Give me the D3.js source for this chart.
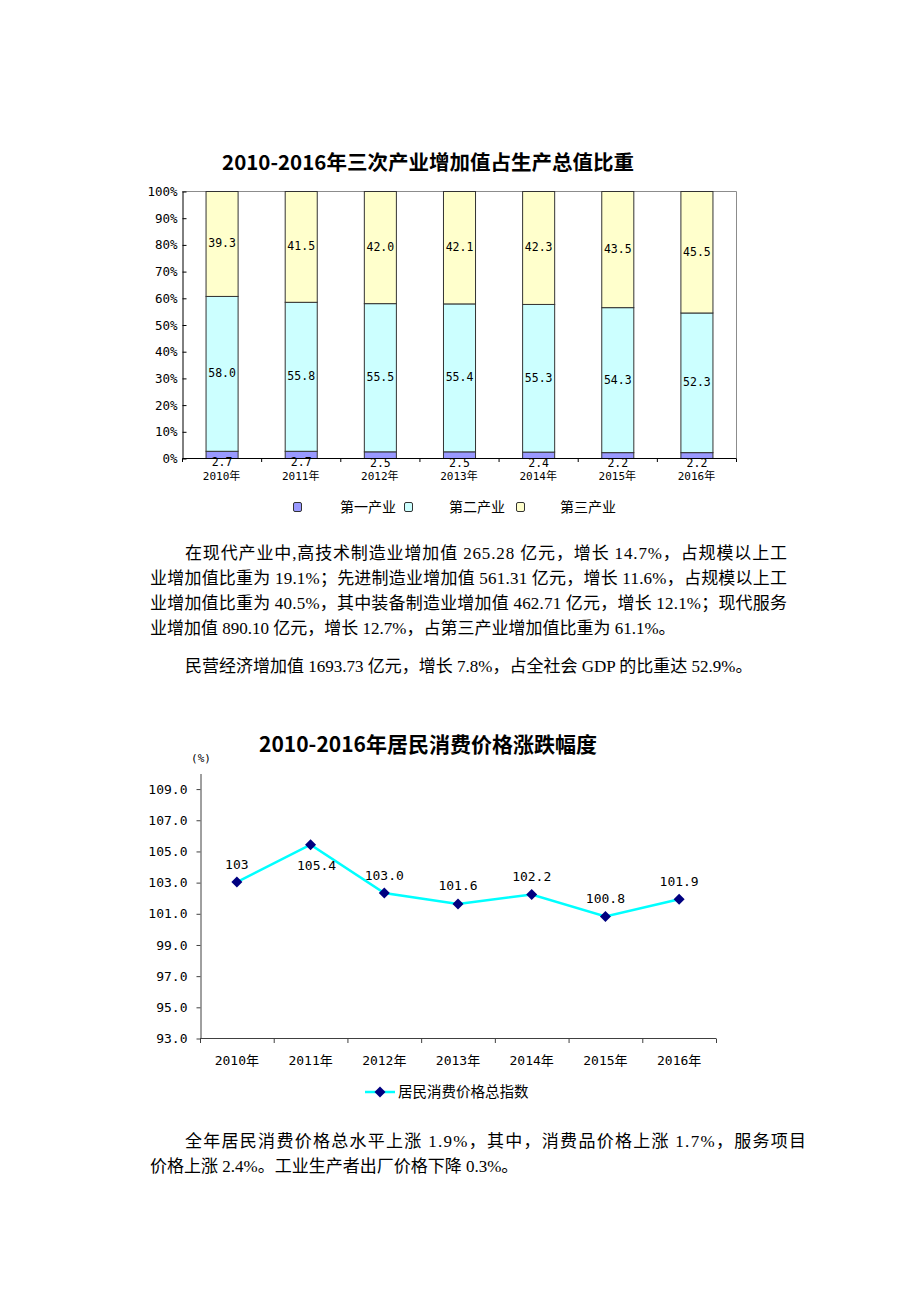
<!DOCTYPE html>
<html>
<head>
<meta charset="utf-8">
<script src="https://cdn.jsdelivr.net/npm/d3@7/dist/d3.min.js"></script>
<style>
  html, body { margin: 0; padding: 0; background: #fff; }
  svg { display: block; }
</style>
</head>
<body>
<svg id="page" width="920" height="1302"></svg>
<script>
// ---------- data ----------
const years = ['2010年','2011年','2012年','2013年','2014年','2015年','2016年'];
const primaryShare   = [2.7, 2.7, 2.5, 2.5, 2.4, 2.2, 2.2];
const secondaryShare = [58.0, 55.8, 55.5, 55.4, 55.3, 54.3, 52.3];
const tertiaryShare  = [39.3, 41.5, 42.0, 42.1, 42.3, 43.5, 45.5];
const shareSeries = ['第一产业','第二产业','第三产业'];
const shareTicks = [0,10,20,30,40,50,60,70,80,90,100];

const cpiValues = [103.0, 105.4, 102.3, 101.6, 102.2, 100.8, 101.9];
const cpiLabels = ['103','105.4','103.0','101.6','102.2','100.8','101.9'];
const cpiTicks = [93,95,97,99,101,103,105,107,109];
const cpiSeries = '居民消费价格总指数';

const svg = d3.select('#page');
const NUM = "'DejaVu Sans Mono','Noto Sans CJK SC',monospace";
const CJK = "'Noto Sans CJK SC',sans-serif";
const BODY = "'Liberation Serif','Noto Sans CJK SC',serif";

// ---------- chart 1: stacked 100% bars ----------
(function(){
  const L = 182, R = 736, T = 191, B = 458;
  const colors = ['#9999ff','#ccffff','#ffffcc'];
  const g = svg.append('g');

  g.append('text').attr('x', 428).attr('y', 170).attr('text-anchor','middle')
    .attr('font-family',CJK).attr('font-weight','bold').attr('font-size',20.5)
    .text('2010-2016年三次产业增加值占生产总值比重');

  const x = d3.scaleBand().domain(years).range([L, R]).paddingInner(0.595).paddingOuter(0.2975);
  const y = d3.scaleLinear().domain([0, 100]).range([B, T]);

  // plot border (top/right)
  g.append('path').attr('d', `M${L},${T+0.5}H${R+0.5}V${B}`).attr('fill','none').attr('stroke','#8c8c8c').attr('stroke-width',1);

  const rows = years.map((yr,i)=>({year:yr, a:primaryShare[i], b:secondaryShare[i], c:tertiaryShare[i]}));
  const stack = d3.stack().keys(['a','b','c'])(rows);

  stack.forEach((layer, li) => {
    g.selectAll(null).data(layer).enter().append('rect')
      .attr('x', d => x(d.data.year) + 0.5)
      .attr('y', d => y(d[1]) + 0.5)
      .attr('width', x.bandwidth())
      .attr('height', d => y(d[0]) - y(d[1]))
      .attr('fill', colors[li]).attr('stroke','#333').attr('stroke-width',1);
  });
  stack.forEach((layer) => {
    g.selectAll(null).data(layer).enter().append('text')
      .attr('x', d => x(d.data.year) + x.bandwidth()/2 + 0.5)
      .attr('y', d => {
        const cy = (y(d[0]) + y(d[1]))/2;
        const h = y(d[0]) - y(d[1]);
        return h < 14 ? cy + 8 : cy;
      })
      .attr('dy','0.35em').attr('text-anchor','middle')
      .attr('font-family',NUM).attr('font-size',11.5).attr('fill','#000')
      .text(d => (d[1]-d[0]).toFixed(1));
  });

  // y axis
  const yAxis = d3.axisLeft(y).tickValues(shareTicks).tickFormat(d => d + '%').tickSizeInner(-4).tickSizeOuter(0).tickPadding(5);
  const ya = g.append('g').attr('transform', `translate(${L+0.5},0.5)`).call(yAxis);
  ya.select('.domain').attr('stroke','#000');
  ya.selectAll('.tick line').attr('stroke','#000');
  ya.selectAll('text').attr('font-family',NUM).attr('font-size',12.5).attr('fill','#000');

  // x axis
  const xa = g.append('g').attr('transform', `translate(0.5,${B+0.5})`);
  xa.append('line').attr('x1',L).attr('x2',R).attr('stroke','#000');
  const step = x.step();
  g.selectAll(null).data(d3.range(years.length + 1)).enter().append('line')
    .attr('x1', i => L + i*step + 0.5).attr('x2', i => L + i*step + 0.5)
    .attr('y1', B + 0.5).attr('y2', B + 4).attr('stroke','#000');
  g.selectAll(null).data(years).enter().append('text')
    .attr('x', d => x(d) + x.bandwidth()/2).attr('y', 480)
    .attr('text-anchor','middle').attr('font-family',NUM).attr('font-size',11)
    .text(d => d);

  // legend
  const lx = [298, 409, 521], tx = [340, 449, 560];
  shareSeries.forEach((s,i) => {
    g.append('rect').attr('x', lx[i]-4.5).attr('y', 502.5).attr('width',8).attr('height',9).attr('rx',1.5)
      .attr('fill', colors[i]).attr('stroke','#333');
    g.append('text').attr('x', tx[i]).attr('y', 512).attr('font-family',CJK).attr('font-size',14).text(s);
  });
})();

// ---------- body text ----------
function bodyLine(x, y, txt, endX){
  const t = svg.append('text').attr('x', x).attr('y', y).attr('font-family',BODY).attr('font-size',17).attr('fill','#000').text(txt);
  if (endX) {
    const w = t.node().getComputedTextLength();
    if (w < endX - x) t.attr('textLength', endX - x).attr('lengthAdjust','spacing');
  }
}
bodyLine(185, 559, '在现代产业中,高技术制造业增加值 265.28 亿元，增长 14.7%，占规模以上工', 787);
bodyLine(150, 584, '业增加值比重为 19.1%；先进制造业增加值 561.31 亿元，增长 11.6%，占规模以上工', 787);
bodyLine(150, 609, '业增加值比重为 40.5%，其中装备制造业增加值 462.71 亿元，增长 12.1%；现代服务', 787);
bodyLine(150, 634, '业增加值 890.10 亿元，增长 12.7%，占第三产业增加值比重为 61.1%。');
bodyLine(185, 672, '民营经济增加值 1693.73 亿元，增长 7.8%，占全社会 GDP 的比重达 52.9%。');
bodyLine(185, 1147, '全年居民消费价格总水平上涨 1.9%，其中，消费品价格上涨 1.7%，服务项目', 806);
bodyLine(150, 1172, '价格上涨 2.4%。工业生产者出厂价格下降 0.3%。');

// ---------- chart 2: CPI line ----------
(function(){
  const L = 200, R = 716, T = 773, B = 1038;
  const g = svg.append('g');

  g.append('text').attr('x', 428).attr('y', 752).attr('text-anchor','middle')
    .attr('font-family',CJK).attr('font-weight','bold').attr('font-size',21)
    .text('2010-2016年居民消费价格涨跌幅度');
  g.append('text').attr('x', 201).attr('y', 762).attr('text-anchor','middle')
    .attr('font-family',NUM).attr('font-size',11).text('(%)');

  const x = d3.scalePoint().domain(years).range([L, R]).padding(0.5);
  const y = d3.scaleLinear().domain([93, 110]).range([B, T]);

  const yAxis = d3.axisLeft(y).tickValues(cpiTicks).tickFormat(d3.format('.1f')).tickSizeInner(4).tickSizeOuter(0).tickPadding(9);
  const ya = g.append('g').attr('transform', `translate(${L+0.5},0.5)`).call(yAxis);
  ya.select('.domain').attr('stroke','#404040');
  ya.selectAll('.tick line').attr('stroke','#404040');
  ya.selectAll('text').attr('font-family',NUM).attr('font-size',13).attr('fill','#000');

  const step = x.step();
  g.append('line').attr('x1',L).attr('x2',R).attr('y1',B+0.5).attr('y2',B+0.5).attr('stroke','#404040');
  g.selectAll(null).data(d3.range(years.length + 1)).enter().append('line')
    .attr('x1', i => L + i*step + 0.5).attr('x2', i => L + i*step + 0.5)
    .attr('y1', B + 0.5).attr('y2', B + 5).attr('stroke','#404040');
  g.selectAll(null).data(years).enter().append('text')
    .attr('x', d => x(d)).attr('y', 1065).attr('text-anchor','middle')
    .attr('font-family',NUM).attr('font-size',13).text(d => d);

  const pts = years.map((yr,i) => [x(yr), y(cpiValues[i])]);
  g.append('path').attr('d', d3.line()(pts)).attr('fill','none').attr('stroke','#00ffff').attr('stroke-width',2.5);
  const diamond = 'M0,-5.5L5.5,0L0,5.5L-5.5,0Z';
  g.selectAll(null).data(pts).enter().append('path')
    .attr('d', diamond).attr('transform', d => `translate(${d[0]},${d[1]})`).attr('fill','#000080');

  const maxV = d3.max(cpiValues);
  g.selectAll(null).data(cpiValues).enter().append('text')
    .attr('x', (v,i) => x(years[i]) + (v === maxV ? 6 : 0))
    .attr('y', (v,i) => y(v) + (v === maxV ? 21 : -18))
    .attr('dy','0.35em').attr('text-anchor','middle')
    .attr('font-family',NUM).attr('font-size',13).text((v,i) => cpiLabels[i]);

  // legend
  g.append('line').attr('x1',365).attr('x2',395).attr('y1',1092).attr('y2',1092).attr('stroke','#00ffff').attr('stroke-width',2.5);
  g.append('path').attr('d', diamond).attr('transform','translate(380,1092)').attr('fill','#000080');
  g.append('text').attr('x',398).attr('y',1097).attr('font-family',CJK).attr('font-size',14.5).text(cpiSeries);
})();
</script>
</body>
</html>
